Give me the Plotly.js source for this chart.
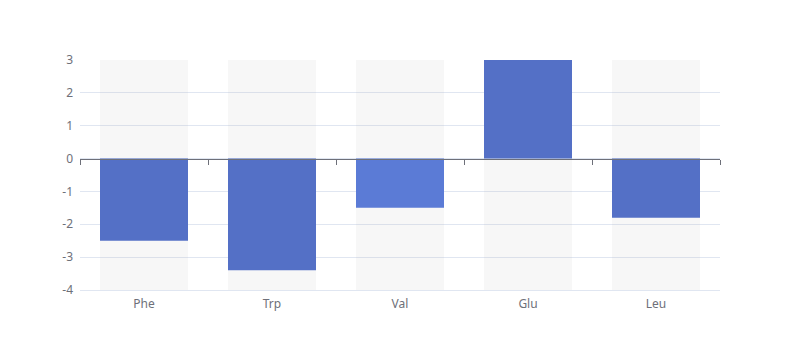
<!DOCTYPE html>
<html>
<head>
<meta charset="utf-8">
<script src="https://cdn.plot.ly/plotly-3.0.1.min.js"></script>
<style>html,body{margin:0;padding:0;background:#fff;}#chart{width:800px;height:360px;}</style>
</head>
<body>
<div id="chart"></div>
<script>
const categories = ["Phe", "Trp", "Val", "Glu", "Leu"];
const values = [-2.5, -3.4, -1.5, 3, -1.8];
const barColors = ["#5470c6", "#5470c6", "#5b7bd6", "#5470c6", "#5470c6"];
const yMin = -4, yMax = 3;
const yTicks = [-4, -3, -2, -1, 0, 1, 2, 3];

const bg = {
  type: "bar", x: categories, y: categories.map(() => yMax - yMin),
  base: categories.map(() => yMin), width: 0.6875, opacity: 1,
  marker: {color: "rgba(180,180,180,0.11)", line: {width: 0}}, xaxis: "x", yaxis: "y",
  hoverinfo: "skip", showlegend: false
};
const bars = {
  type: "bar", x: categories, y: values, width: 0.6875, opacity: 1,
  marker: {color: barColors, opacity: 1, line: {width: 0}}, xaxis: "x2", yaxis: "y",
  showlegend: false
};
const font = {family: "'Noto Sans', 'DejaVu Sans', sans-serif", size: 12, color: "#6e7079"};
const layout = {
  width: 800, height: 360,
  margin: {l: 80, r: 80, t: 60, b: 70},
  paper_bgcolor: "#fff", plot_bgcolor: "#fff",
  barmode: "overlay", showlegend: false, hovermode: false,
  font: font,
  xaxis: {
    type: "category", categoryorder: "array", categoryarray: categories,
    range: [-0.5, categories.length - 0.5],
    showgrid: false, showline: true, linecolor: "#e0e6f1", linewidth: 1,
    zeroline: false, ticks: "",
    tickfont: font, ticklabelstandoff: 3, fixedrange: true
  },
  xaxis2: {
    type: "category", categoryorder: "array", categoryarray: categories,
    matches: "x", overlaying: "x", anchor: "free",
    position: (0 - yMin) / (yMax - yMin),
    showgrid: false, showline: true, linecolor: "#6e7079", linewidth: 1,
    ticks: "outside", tickson: "boundaries", ticklen: 5, tickcolor: "#6e7079",
    showticklabels: false, zeroline: false, fixedrange: true
  },
  yaxis: {
    range: [yMin, yMax], tickvals: yTicks, ticktext: yTicks.map(String),
    showgrid: true, gridcolor: "#e0e6f1", gridwidth: 1,
    zeroline: false, showline: false, ticks: "",
    tickfont: font, ticklabelstandoff: 6, fixedrange: true
  }
};
Plotly.newPlot("chart", [bg, bars], layout, {displayModeBar: false, staticPlot: true});
</script>
</body>
</html>
